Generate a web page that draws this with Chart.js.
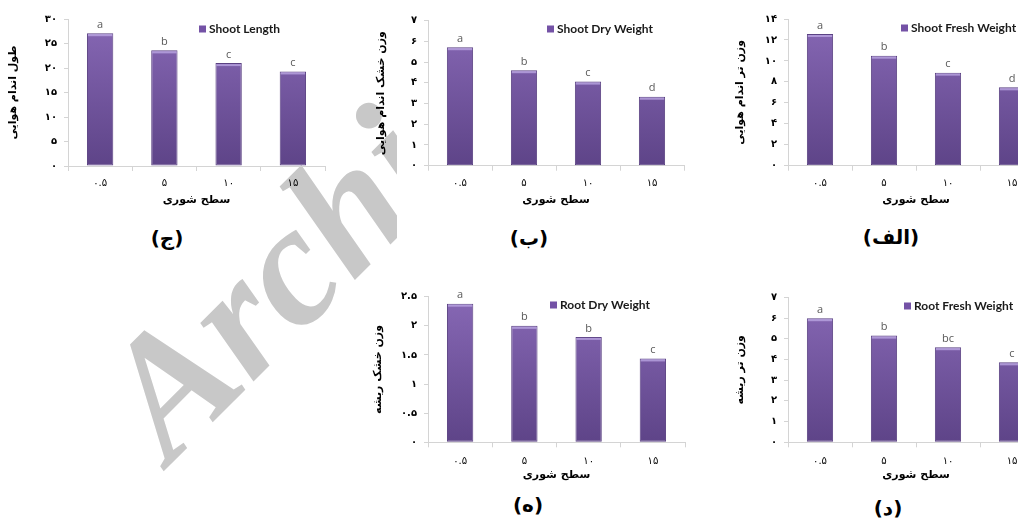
<!DOCTYPE html>
<html>
<head>
<meta charset="utf-8">
<script src="https://cdn.jsdelivr.net/npm/chart.js@4.4.1/dist/chart.umd.min.js"></script>
<style>
    html, body { margin: 0; padding: 0; background: #fff; }
    body { width: 1018px; height: 521px; position: relative; overflow: hidden; font-family: "DejaVu Sans", sans-serif; }
    .wm { position: absolute; left: 0; top: 0; }
    .mask { position: absolute; left: 397px; top: 0; width: 621px; height: 265px; background: #fff; }
    canvas { position: absolute; }
    .cap { position: absolute; font: bold 20px "DejaVu Sans"; transform: translate(-50%, -50%); white-space: nowrap; color: #000; }
</style>
</head>
<body>
<svg class="wm" width="1018" height="521">
    <text x="170" y="465" transform="rotate(-45 170 465)" font-family="Liberation Serif" font-weight="bold" font-style="italic" font-size="172" fill="#c8c8c8">Archive of SID</text>
</svg>
<div class="mask"></div>
<canvas id="chartJ"></canvas>
<canvas id="chartB"></canvas>
<canvas id="chartAlef"></canvas>
<canvas id="chartH"></canvas>
<canvas id="chartD"></canvas>
<div class="cap" style="left:167px; top:238px;">(ج)</div>
<div class="cap" style="left:529px; top:238px;">(ب)</div>
<div class="cap" style="left:891px; top:237px;">(الف)</div>
<div class="cap" style="left:528px; top:505px;">(ه)</div>
<div class="cap" style="left:888px; top:508px;">(د)</div>
<script>
"use strict";

// salinity levels (x categories)
const salinity = ["۰.۵", "۵", "۱۰", "۱۵"];

const shootLength = [27.1, 23.6, 21.0, 19.3];
const shootLengthGroups = ["a", "b", "c", "c"];

const shootDry = [5.72, 4.61, 4.06, 3.33];
const shootDryGroups = ["a", "b", "c", "d"];

const shootFresh = [12.57, 10.5, 8.88, 7.48];
const shootFreshGroups = ["a", "b", "c", "d"];

const rootDry = [2.38, 2.0, 1.81, 1.44];
const rootDryGroups = ["a", "b", "b", "c"];

const rootFresh = [5.99, 5.15, 4.59, 3.86];
const rootFreshGroups = ["a", "b", "bc", "c"];

const xTitle = "سطح شوری";

(() => {
    const faDigits = "۰۱۲۳۴۵۶۷۸۹";
    const toFa = (v) => String(Math.round(v * 10) / 10).replace(/\d/g, (d) => faDigits[d]);
    const axisGray = "#d4d4d4";

    const barFill = (c) => {
        const area = c.chart.chartArea;
        if (!area) return "#7656a6";
        const g = c.chart.ctx.createLinearGradient(0, area.top, 0, area.bottom);
        g.addColorStop(0, "#8768b5");
        g.addColorStop(1, "#5e4488");
        return g;
    };

    // letters of the mean comparison + light bevel on top of each bar
    const groupLetters = {
        id: "groupLetters",
        afterDatasetsDraw(chart, args, opts) {
            const { ctx } = chart;
            const meta = chart.getDatasetMeta(0);
            ctx.save();
            meta.data.forEach((bar, i) => {
                ctx.fillStyle = "rgba(190,170,230,0.75)";
                ctx.fillRect(bar.x - bar.width / 2 + 1, bar.y + 1, bar.width - 2, 2);
                ctx.font = "11px 'Open Sans'";
                ctx.fillStyle = "#595959";
                ctx.textAlign = "center";
                ctx.textBaseline = "bottom";
                ctx.fillText(opts.letters[i], bar.x, bar.y - 3);
            });
            ctx.restore();
        }
    };

    const boxLegend = {
        id: "boxLegend",
        afterDraw(chart, args, opts) {
            const { ctx, chartArea } = chart;
            const x = chartArea.left + opts.dx;
            const y = chartArea.top + opts.dy;
            ctx.save();
            ctx.fillStyle = "#7452a6";
            ctx.fillRect(x, y - 3.5, 7, 7);
            ctx.font = "bold 12px Lato";
            ctx.fillStyle = "#1a1a1a";
            ctx.textBaseline = "middle";
            ctx.fillText(chart.data.datasets[0].label, x + 10, y);
            ctx.restore();
        }
    };

    const panels = [
        { id: "chartJ", label: "Shoot Length", yTitle: "طول اندام هوایی", values: shootLength, letters: shootLengthGroups,
          max: 30, step: 5, left: 0, top: 0, w: 335, h: 215, axisW: 68, axisH: 49, padTop: 19, titlePad: 6.4, dx: 131, dy: 10, row: 0 },
        { id: "chartB", label: "Shoot Dry Weight", yTitle: "وزن خشک اندام هوایی", values: shootDry, letters: shootDryGroups,
          max: 7, step: 1, left: 370, top: 0, w: 324, h: 215, axisW: 58, axisH: 49.3, padTop: 20.7, titlePad: 4.4, dx: 119, dy: 8.3, row: 0 },
        { id: "chartAlef", label: "Shoot Fresh Weight", yTitle: "وزن تر اندام هوایی", values: shootFresh, letters: shootFreshGroups,
          max: 14, step: 2, left: 730, top: 0, w: 324, h: 215, axisW: 58, axisH: 49.3, padTop: 19, titlePad: 3.4, dx: 113, dy: 9, row: 0 },
        { id: "chartH", label: "Root Dry Weight", yTitle: "وزن خشک ریشه", values: rootDry, letters: rootDryGroups,
          max: 2.5, step: 0.5, left: 367, top: 270, w: 328, h: 220, axisW: 61, axisH: 47.7, padTop: 26.7, titlePad: 4.4, dx: 122, dy: 8.3, row: 1 },
        { id: "chartD", label: "Root Fresh Weight", yTitle: "وزن تر ریشه", values: rootFresh, letters: rootFreshGroups,
          max: 7, step: 1, left: 730, top: 270, w: 324, h: 220, axisW: 58, axisH: 47.7, padTop: 27.3, titlePad: 3.4, dx: 116, dy: 8.7, row: 1 }
    ];

    const makePanel = (p) => {
        const canvas = document.getElementById(p.id);
        canvas.width = p.w;
        canvas.height = p.h;
        canvas.style.left = p.left + "px";
        canvas.style.top = p.top + "px";
        const tickPad = p.row === 0 ? 6.6 : 8.4;
        const xTitlePad = p.row === 0 ? 7.9 : 8.4;

        new Chart(canvas, {
            type: "bar",
            data: {
                labels: salinity,
                datasets: [{
                    label: p.label,
                    data: p.values,
                    backgroundColor: barFill,
                    borderColor: "#5a4182",
                    borderWidth: 1,
                    borderSkipped: false,
                    categoryPercentage: 1,
                    barPercentage: 0.41
                }]
            },
            options: {
                responsive: false,
                animation: false,
                devicePixelRatio: 1,
                layout: { padding: { left: 0, right: 10, top: p.padTop, bottom: 0 } },
                plugins: {
                    legend: { display: false },
                    tooltip: { enabled: false },
                    groupLetters: { letters: p.letters },
                    boxLegend: { dx: p.dx, dy: p.dy }
                },
                scales: {
                    x: {
                        grid: { drawOnChartArea: false, drawTicks: true, tickLength: 5, color: axisGray, offset: true },
                        border: { color: axisGray },
                        ticks: { color: "#000", font: { family: "DejaVu Sans", size: 10 }, padding: tickPad },
                        title: { display: true, text: xTitle, color: "#000", font: { family: "DejaVu Sans", size: 11, weight: "bold" }, padding: { top: 2, bottom: xTitlePad } },
                        afterFit: (s) => { s.height = p.axisH; }
                    },
                    y: {
                        min: 0,
                        max: p.max,
                        grid: { drawOnChartArea: false, drawTicks: true, tickLength: 4, color: axisGray },
                        border: { color: axisGray },
                        ticks: { stepSize: p.step, color: "#000", font: { family: "DejaVu Sans", size: 10, weight: "bold" }, padding: 7, callback: (v) => toFa(v) },
                        title: { display: true, text: p.yTitle, color: "#000", font: { family: "DejaVu Sans", size: 11, weight: "bold" }, padding: { top: p.titlePad, bottom: 0 } },
                        afterFit: (s) => { s.width = p.axisW; }
                    }
                }
            },
            plugins: [groupLetters, boxLegend]
        });
    };

    panels.forEach(makePanel);
})();
</script>
</body>
</html>
